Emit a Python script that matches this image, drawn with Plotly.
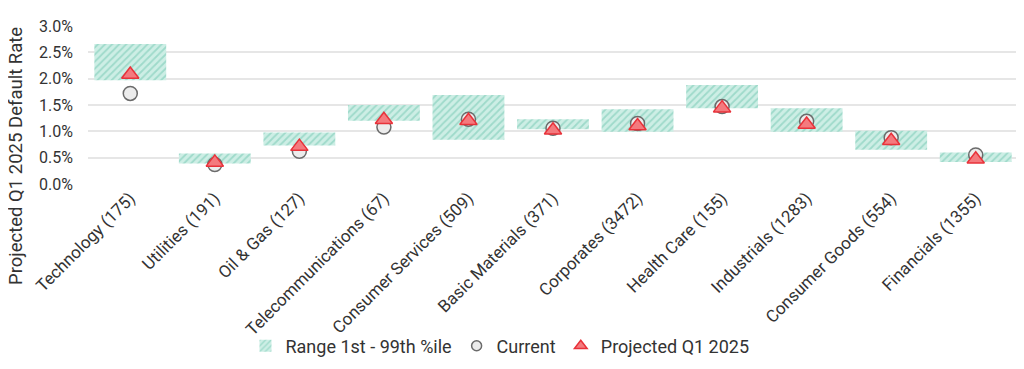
import plotly.graph_objects as go

categories = ["Technology (175)", "Utilities (191)", "Oil & Gas (127)", "Telecommunications (67)",
              "Consumer Services (509)", "Basic Materials (371)", "Corporates (3472)",
              "Health Care (155)", "Industrials (1283)", "Consumer Goods (554)", "Financials (1355)"]
range_low = [1.97, 0.39, 0.73, 1.20, 0.84, 1.04, 0.99, 1.44, 0.99, 0.65, 0.42]
range_high = [2.66, 0.58, 0.98, 1.50, 1.69, 1.23, 1.42, 1.88, 1.44, 1.01, 0.60]
current = [1.72, 0.37, 0.62, 1.08, 1.23, 1.06, 1.15, 1.47, 1.19, 0.88, 0.55]
projected = [2.08, 0.41, 0.71, 1.22, 1.20, 1.02, 1.10, 1.44, 1.13, 0.82, 0.47]
y_ticks = [0, 0.5, 1.0, 1.5, 2.0, 2.5, 3.0]
y_tick_labels = ["0.0%", "0.5%", "1.0%", "1.5%", "2.0%", "2.5%", "3.0%"]

font = "Roboto, 'Open Sans', sans-serif"
circle_style = dict(symbol="circle", color="#ececec", line=dict(color="#6b6b6b", width=1.5))
tri_style = dict(symbol="triangle-up", color="#f47a7e", line=dict(color="#e8323a", width=1.5))

fig = go.Figure()
fig.add_trace(go.Bar(
    x=categories, y=[h - l for h, l in zip(range_high, range_low)], base=range_low,
    name="Range 1st - 99th %ile", width=0.85,
    marker=dict(color="#cdeee5", line=dict(width=0),
                pattern=dict(shape="/", fgcolor="#6fc6b0", bgcolor="#cdeee5", size=5, solidity=0.35)),
    hoverinfo="skip",
))
fig.add_trace(go.Scatter(
    x=categories, y=current, mode="markers", name="Current", showlegend=False,
    legendgroup="cur", marker=dict(size=14, **circle_style),
))
fig.add_trace(go.Scatter(
    x=categories, y=projected, mode="markers", name="Projected Q1 2025", showlegend=False,
    legendgroup="proj", marker=dict(size=15, **tri_style),
))
# legend-only entries with smaller symbols
fig.add_trace(go.Scatter(x=[None], y=[None], mode="markers", name="Current", legendgroup="cur",
                         marker=dict(size=10, **circle_style)))
fig.add_trace(go.Scatter(x=[None], y=[None], mode="markers", name="Projected Q1 2025", legendgroup="proj",
                         marker=dict(size=11, **tri_style)))

# page body has an 8px margin, so shift the figure to match
W, H = 1016, 361
fig.update_layout(
    width=W, height=H,
    margin=dict(l=80, r=6, t=18, b=185, autoexpand=False),
    paper_bgcolor="white", plot_bgcolor="white",
    font=dict(family=font, color="#333333", size=16),
    showlegend=True,
    legend=dict(orientation="h", x=0.443, xanchor="center", yref="container", y=1 - 338 / H, yanchor="middle",
                font=dict(size=18, color="#333333"), traceorder="normal", itemwidth=30,
                bgcolor="rgba(0,0,0,0)"),
    annotations=[dict(text="Projected Q1 2025 Default Rate", xref="paper", yref="paper",
                      x=(8 - 80) / 930, y=(176 - 148) / 158, xanchor="center", yanchor="middle",
                      textangle=-90, showarrow=False, font=dict(size=18.5, color="#333333"))],
)
fig.update_xaxes(range=[-0.5, len(categories) - 0.5], tickangle=-45,
                 tickfont=dict(size=17, color="#333333"), showgrid=False,
                 showline=False, ticks="", automargin=False)
fig.update_yaxes(range=[0, 3.0], tickvals=y_ticks, ticktext=y_tick_labels,
                 showgrid=True, gridcolor="#e6e6e6", gridwidth=1.5, zeroline=False,
                 tickfont=dict(size=16, color="#333333"), ticklabelstandoff=14, automargin=False)

fig.write_html("out.html")
